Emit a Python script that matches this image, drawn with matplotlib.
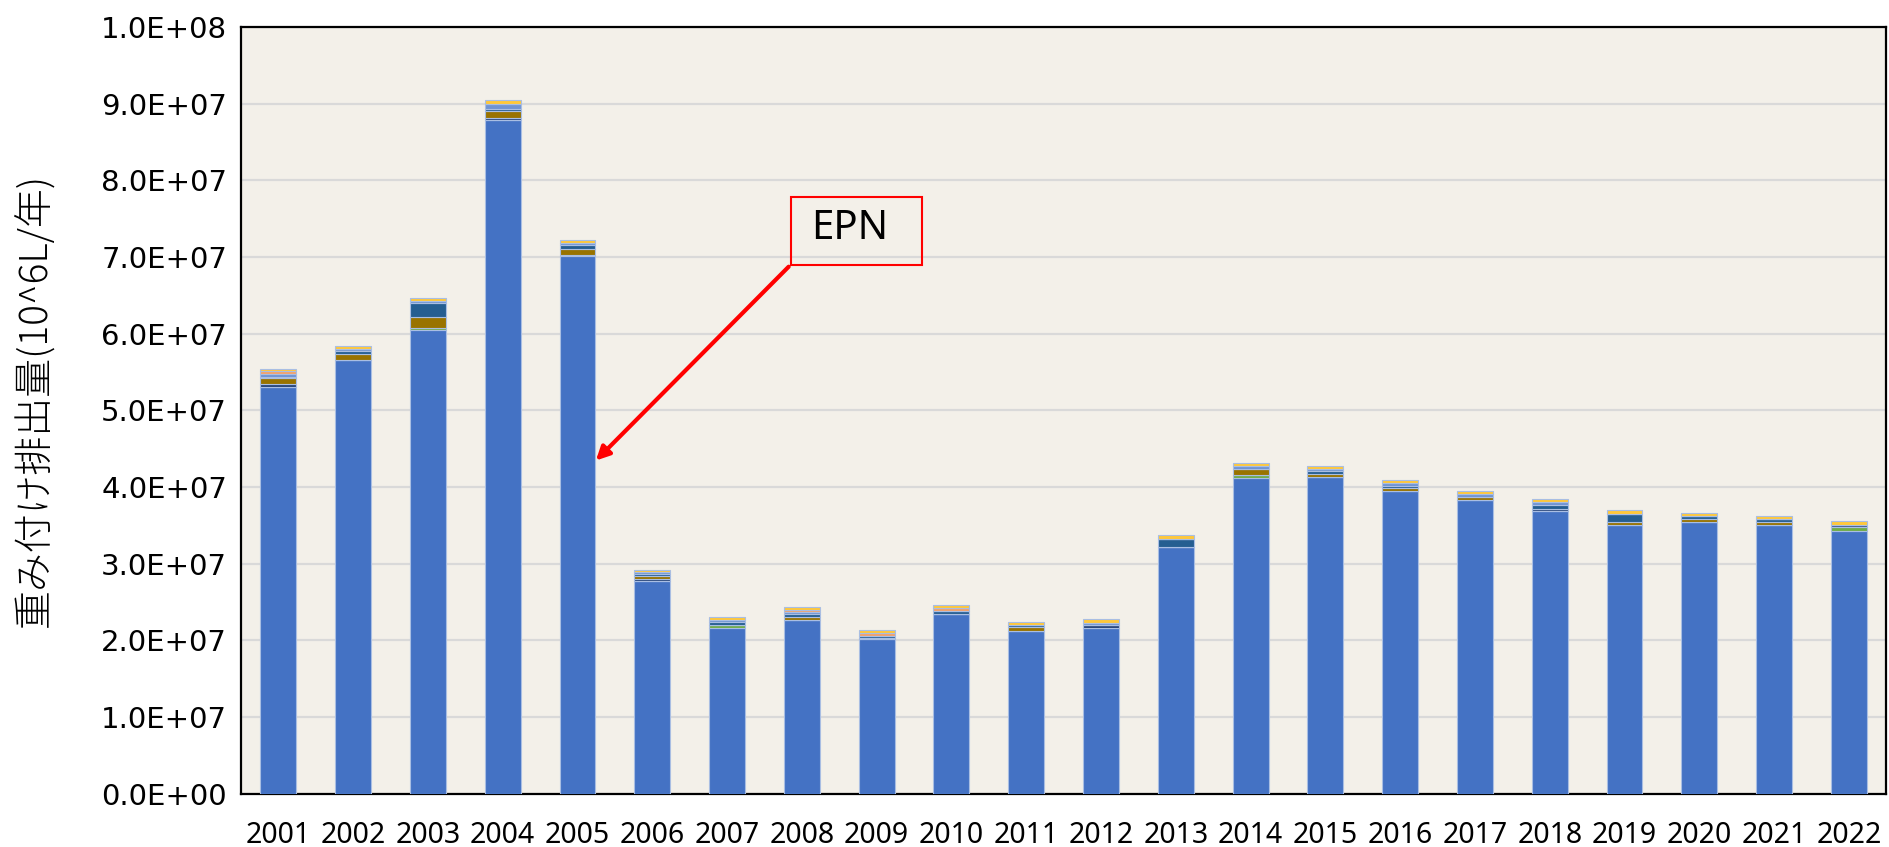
import matplotlib
matplotlib.use("Agg")
import matplotlib.pyplot as plt
import numpy as np
from matplotlib.ticker import FuncFormatter, MultipleLocator
from matplotlib.patches import Rectangle

UNIT = 1e7
years = [str(y) for y in range(2001, 2023)]
epn =       [5.30, 5.66, 6.05, 8.79, 7.01, 2.77, 2.16, 2.27, 2.02, 2.34, 2.125, 2.16, 3.217, 4.12, 4.127, 3.944, 3.83, 3.687, 3.504, 3.543, 3.504, 3.43]
green =     [0, 0, 0.02, 0, 0.02, 0, 0.035, 0, 0, 0, 0, 0, 0, 0.04, 0, 0, 0, 0, 0, 0, 0, 0.045]
navy =      [0.04, 0, 0, 0.03, 0, 0.03, 0, 0, 0.01, 0, 0, 0.04, 0, 0, 0, 0, 0, 0.03, 0, 0, 0, 0.035]
olive =     [0.08, 0.08, 0.15, 0.08, 0.07, 0.04, 0, 0.04, 0, 0, 0.045, 0, 0, 0.075, 0.045, 0.045, 0.04, 0, 0.045, 0.04, 0.045, 0]
steel =     [0.02, 0.03, 0.18, 0.03, 0.06, 0.03, 0.04, 0.04, 0.03, 0.045, 0.025, 0, 0.11, 0, 0.035, 0.03, 0, 0.045, 0.105, 0.035, 0.03, 0]
lightblue = [0.04, 0.03, 0.03, 0.07, 0.03, 0.02, 0.03, 0.02, 0, 0, 0, 0.03, 0, 0.04, 0.03, 0.035, 0.04, 0.045, 0, 0, 0, 0]
salmon =    [0.03, 0, 0, 0, 0, 0, 0, 0.02, 0.03, 0.035, 0, 0, 0, 0, 0, 0, 0, 0, 0, 0, 0, 0]
yellow =    [0.03, 0.04, 0.04, 0.045, 0.03, 0.03, 0.045, 0.04, 0.04, 0.035, 0.045, 0.045, 0.045, 0.04, 0.04, 0.04, 0.04, 0.035, 0.045, 0.04, 0.045, 0.045]

series = [
    ("EPN", epn, "#4472C4"),
    ("s2", green, "#70AD47"),
    ("s3", navy, "#264478"),
    ("s4", olive, "#997300"),
    ("s5", steel, "#255E91"),
    ("s6", lightblue, "#6F93D3"),
    ("s7", salmon, "#F4A26B"),
    ("s8", yellow, "#FFC83A"),
]

fig = plt.figure(figsize=(18.9, 8.47), dpi=100)
fig.patch.set_facecolor("white")
ax = fig.add_axes([0.1275, 0.063, 0.8705, 0.905])
ax.set_facecolor("#F3F0E9")

x = np.arange(len(years))
bottom = np.zeros(len(years))
for name, vals, col in series:
    v = np.array(vals) * UNIT
    ax.bar(x, v, width=0.48, bottom=bottom, color=col, edgecolor="#A9BEE3",
           linewidth=0.8, zorder=3)
    bottom += v

ax.set_xlim(-0.5, len(years) - 0.5)
ax.set_ylim(0, 1e8)
ax.yaxis.set_major_locator(MultipleLocator(1e7))
ax.yaxis.set_major_formatter(FuncFormatter(lambda v, p: f"{v:.1E}"))
ax.grid(axis="y", color="#D9D9D9", linewidth=1.6, zorder=0)
ax.set_axisbelow(True)
ax.set_xticks(x)
ax.set_xticklabels(years, family=["Noto Sans", "DejaVu Sans"], fontsize=20.5)
ax.tick_params(axis="x", length=0, pad=20)
ax.tick_params(axis="y", length=0, pad=10, labelsize=21)
for s in ax.spines.values():
    s.set_color("black")
    s.set_linewidth(1.6)

ax.set_ylabel("重み付け排出量(10^6L/年)", family=["Noto Sans CJK JP", "DejaVu Sans"],
              fontsize=28, fontweight="light")
ax.yaxis.set_label_coords(-0.1125, 0.513)

# EPN callout
ax.add_patch(Rectangle((6.85, 6.90e7), 1.75, 0.89e7, fill=False, edgecolor="red",
                       linewidth=1.5, zorder=5))
ax.text(7.64, 7.36e7, "EPN", ha="center", va="center", fontsize=29,
        family=["Noto Sans", "DejaVu Sans"], fontweight="light", zorder=6)
ax.annotate("", xy=(4.22, 4.32e7), xytext=(6.85, 6.90e7),
            arrowprops=dict(arrowstyle="-|>,head_length=0.8,head_width=0.4",
                            color="red", lw=3), zorder=6)

fig.savefig("out.png", dpi=100)
